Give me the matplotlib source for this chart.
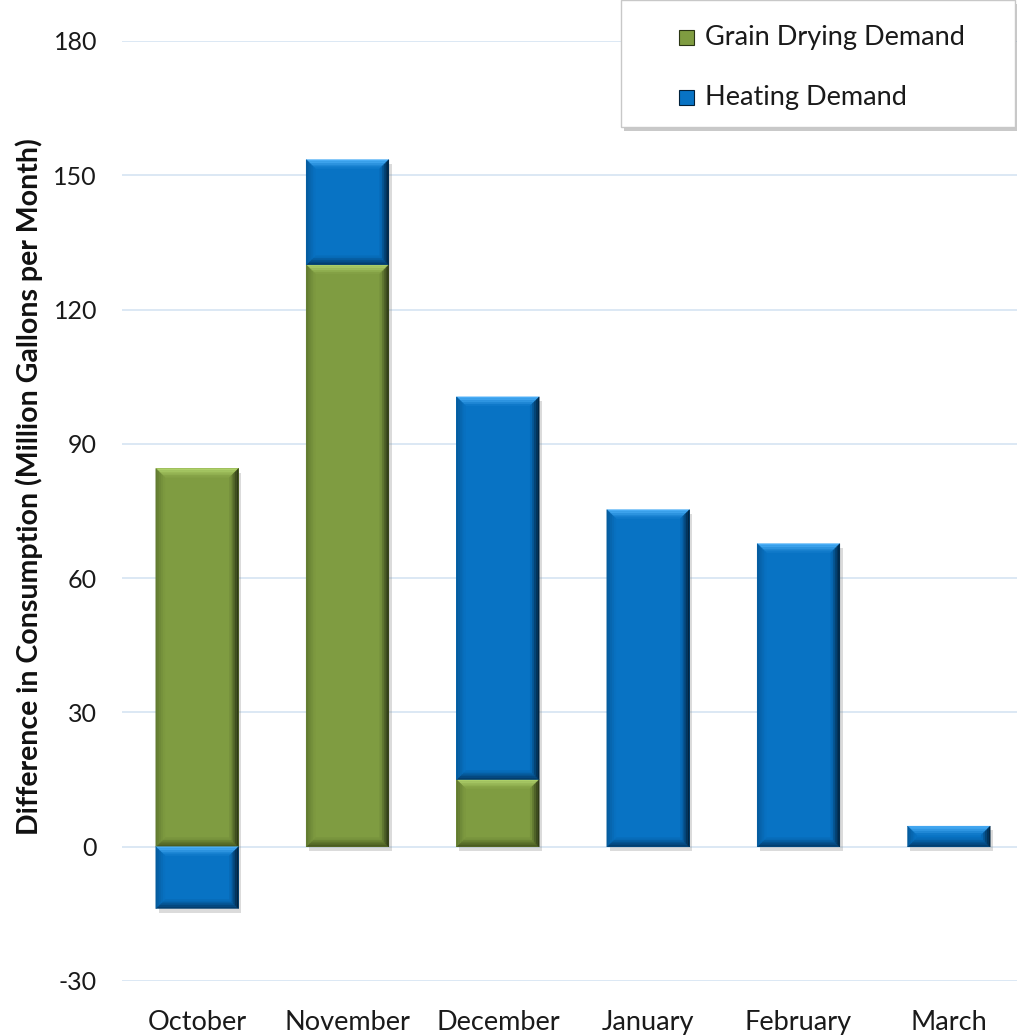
import numpy as np
import matplotlib
matplotlib.use("Agg")
import matplotlib.pyplot as plt
from matplotlib.patches import Polygon, Rectangle
from matplotlib.colors import to_rgb
import matplotlib.patheffects as pe

months = ["October", "November", "December", "January", "February", "March"]
grain = [84.5, 130.0, 15.0, 0.0, 0.0, 0.0]
heating = [-13.8, 23.5, 85.5, 75.3, 67.7, 4.6]
yticks = [-30, 0, 30, 60, 90, 120, 150, 180]

green = {"face": "#7f9c41", "top": "#b0d26c", "left": "#5f772f", "right": "#2a3514", "bottom": "#46571f"}
blue = {"face": "#0873c4", "top": "#4cb0f8", "left": "#05599a", "right": "#01203a", "bottom": "#033a68"}

plt.rcParams['font.family'] = ['Lato', 'DejaVu Sans']
plt.rcParams['axes.unicode_minus'] = False

W, H = 1017, 1035
fig = plt.figure(figsize=(W / 100, H / 100), dpi=100)
ax = fig.add_axes([122 / W, 1 - 981 / H, (W - 122) / W, (981 - 41) / H])
ax.set_ylim(-30, 180)
ax.set_xlim(-0.5, 5.5 - 7 / 150)

for s in ax.spines.values():
    s.set_visible(False)
ax.set_yticks(yticks)
ax.grid(axis='y', color='#d6e4f2', linewidth=1.2)
ax.set_axisbelow(True)
ax.tick_params(axis='both', length=0, colors='#1a1a1a')
ax.tick_params(axis='y', labelsize=18, pad=18)
ax.tick_params(axis='x', labelsize=19.5, pad=21)
ax.set_ylabel("Difference in Consumption (Million Gallons per Month)", fontsize=20.5,
              fontweight='bold', color='#111111')
ax.yaxis.set_label_coords(-0.088, 0.526)

x = np.arange(len(months))
ax.set_xticks(x)
ax.set_xticklabels(months)

width = 0.55
bottoms_h = [g if h > 0 else 0 for g, h in zip(grain, heating)]
shadow = [pe.SimplePatchShadow(offset=(2, -3), alpha=0.3, shadow_rgbFace='#888888'), pe.Normal()]
b1 = ax.bar(x, grain, width, color=green["face"], path_effects=shadow, zorder=2)
b2 = ax.bar(x, heating, width, bottom=bottoms_h, color=blue["face"], path_effects=shadow, zorder=2)

# bevel size: ~9 px in each direction
px_x = 150.0
px_y = (981 - 41) / 210.0
dx = 9 / px_x
dy = 9 / px_y
NSTEP = 5


def mix(c1, c2, t):
    a, b = np.array(to_rgb(c1)), np.array(to_rgb(c2))
    return tuple(a * (1 - t) + b * t)


def bevel(rect, c):
    x0, y0 = rect.get_x(), rect.get_y()
    w, h = rect.get_width(), rect.get_height()
    if h == 0:
        return
    if h < 0:
        y0, h = y0 + h, -h
    x1, y1 = x0 + w, y0 + h
    d = min(dy, h / 2.2)
    for i in range(NSTEP):
        a, b = i / NSTEP, (i + 1) / NSTEP
        ax_, bx_ = dx * a, dx * b
        ay_, by_ = d * a, d * b
        t = (i + 0.5) / NSTEP
        sides = [
            ([(x0 + ax_, y1 - ay_), (x1 - ax_, y1 - ay_), (x1 - bx_, y1 - by_), (x0 + bx_, y1 - by_)],
             mix(c["top"], c["face"], t ** 1.2)),
            ([(x0 + ax_, y0 + ay_), (x1 - ax_, y0 + ay_), (x1 - bx_, y0 + by_), (x0 + bx_, y0 + by_)],
             mix(c["bottom"], c["face"], t ** 1.2)),
            ([(x0 + ax_, y0 + ay_), (x0 + bx_, y0 + by_), (x0 + bx_, y1 - by_), (x0 + ax_, y1 - ay_)],
             mix(c["left"], c["face"], t)),
            ([(x1 - ax_, y0 + ay_), (x1 - bx_, y0 + by_), (x1 - bx_, y1 - by_), (x1 - ax_, y1 - ay_)],
             mix(c["right"], c["face"], t ** 1.2)),
        ]
        for pts, col in sides:
            ax.add_patch(Polygon(pts, closed=True, facecolor=col, edgecolor=col,
                                 linewidth=0.3, zorder=3))


for r in b1:
    bevel(r, green)
for r in b2:
    bevel(r, blue)


# legend box drawn in pixel coordinates
def fx(px):
    return px / W


def fy(py):
    return 1 - py / H


box = Rectangle((fx(621), fy(127)), fx(1015) - fx(621), 127 / H, transform=fig.transFigure,
                facecolor='white', edgecolor='#c8c8c8', linewidth=1.0, zorder=5,
                path_effects=[pe.SimplePatchShadow(offset=(2, -3), alpha=0.3), pe.Normal()])
fig.patches.append(box)
for label, c, py in [("Grain Drying Demand", green, 37), ("Heating Demand", blue, 97)]:
    s = 15
    xs0, ys0 = 679, py - s / 2
    sq = Rectangle((fx(xs0), fy(ys0 + s)), s / W, s / H, transform=fig.transFigure,
                   facecolor=c["face"], edgecolor=c["right"], linewidth=0.8, zorder=6)
    fig.patches.append(sq)
    fig.text(fx(705), fy(py), label, fontsize=19.5, va='center', ha='left', color='#1a1a1a', zorder=7)

fig.savefig("out.png", dpi=100)
